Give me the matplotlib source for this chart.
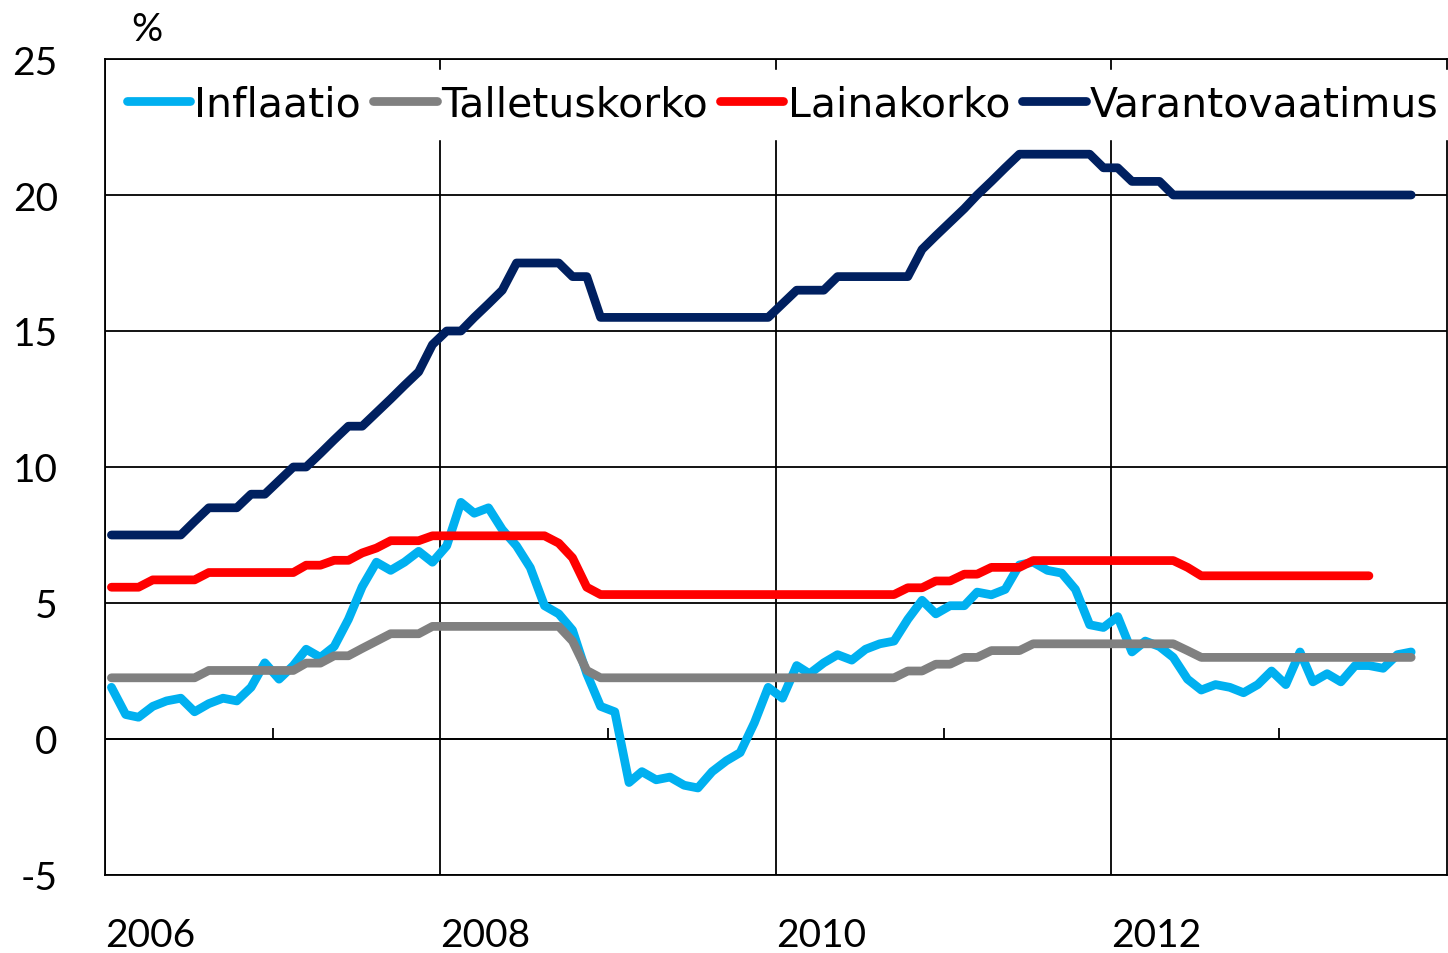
import matplotlib
matplotlib.use("Agg")
from matplotlib import pyplot as plt
import numpy as np
import pandas as pd

# monthly data, Jan 2006 ->
inflaatio = [1.9, 0.9, 0.8, 1.2, 1.4, 1.5, 1.0, 1.3, 1.5, 1.4, 1.9, 2.8,
             2.2, 2.7, 3.3, 3.0, 3.4, 4.4, 5.6, 6.5, 6.2, 6.5, 6.9, 6.5,
             7.1, 8.7, 8.3, 8.5, 7.7, 7.1, 6.3, 4.9, 4.6, 4.0, 2.4, 1.2,
             1.0, -1.6, -1.2, -1.5, -1.4, -1.7, -1.8, -1.2, -0.8, -0.5, 0.6, 1.9,
             1.5, 2.7, 2.4, 2.8, 3.1, 2.9, 3.3, 3.5, 3.6, 4.4, 5.1, 4.6,
             4.9, 4.9, 5.4, 5.3, 5.5, 6.4, 6.5, 6.2, 6.1, 5.5, 4.2, 4.1,
             4.5, 3.2, 3.6, 3.4, 3.0, 2.2, 1.8, 2.0, 1.9, 1.7, 2.0, 2.5,
             2.0, 3.2, 2.1, 2.4, 2.1, 2.7, 2.7, 2.6, 3.1, 3.2]

talletuskorko = ([2.25] * 7 + [2.52] * 7 + [2.79] * 2 + [3.06] * 2 + [3.33] + [3.60]
                 + [3.87] * 3 + [4.14] * 10 + [3.60] + [2.52] + [2.25] * 22
                 + [2.50] * 2 + [2.75] * 2 + [3.00] * 2 + [3.25] * 3 + [3.50] * 11
                 + [3.25] + [3.00] * 16)

lainakorko = ([5.58] * 3 + [5.85] * 4 + [6.12] * 7 + [6.39] * 2 + [6.57] * 2 + [6.84]
              + [7.02] + [7.29] * 3 + [7.47] * 9 + [7.20] + [6.66] + [5.58] + [5.31] * 22
              + [5.56] * 2 + [5.81] * 2 + [6.06] * 2 + [6.31] * 3 + [6.56] * 11
              + [6.31] + [6.00] * 13)

varanto = ([7.5] * 6 + [8.0] + [8.5] * 3 + [9.0] * 2 + [9.5] + [10.0] * 2 + [10.5] + [11.0]
           + [11.5] * 2 + [12.0] + [12.5] + [13.0] + [13.5] + [14.5] + [15.0] * 2 + [15.5]
           + [16.0] + [16.5] + [17.5] * 4 + [17.0] * 2 + [15.5] * 13 + [16.0] + [16.5] * 3
           + [17.0] * 6 + [18.0] + [18.5] + [19.0] + [19.5] + [20.0] + [20.5] + [21.0]
           + [21.5] * 6 + [21.0] * 2 + [20.5] * 3 + [20.0] * 18)

labels = ["Inflaatio", "Talletuskorko", "Lainakorko", "Varantovaatimus"]
colors = ["#00B0F0", "#808080", "#FF0000", "#002060"]
year_labels = ["2006", "2008", "2010", "2012"]

def months(n):
    return pd.date_range("2006-01-01", periods=n, freq="MS") + pd.Timedelta(days=14)

fig = plt.figure(figsize=(14.48, 9.54), dpi=100)
ax = fig.add_axes([105 / 1448, 78 / 954, 1342 / 1448, 816 / 954])

series = [inflaatio, talletuskorko, lainakorko, varanto]
for vals, lab, col in zip(series, labels, colors):
    ax.plot(months(len(vals)), vals, color=col, lw=6.3, label=lab,
            solid_capstyle="round", solid_joinstyle="round", zorder=3)

ax.set_ylim(-5, 25)
ax.set_xlim(pd.Timestamp("2006-01-01"), pd.Timestamp("2014-01-01"))
ax.set_yticks(range(-5, 26, 5))
ax.set_yticklabels([str(v) for v in range(-5, 26, 5)])
xt = [pd.Timestamp(y + "-01-01") for y in year_labels]
ax.set_xticks(xt)
ax.set_xticklabels(year_labels, ha="left")

tickfont = "Lato"
for t in ax.get_yticklabels() + ax.get_xticklabels():
    t.set_fontfamily(tickfont)
    t.set_fontsize(28)
ax.tick_params(axis="y", length=0, pad=34)
ax.tick_params(axis="x", length=0, pad=30)

ax.grid(True, color="black", lw=1.3)
ax.set_axisbelow(True)
for s in ax.spines.values():
    s.set_linewidth(1.3)
    s.set_color("black")

# x axis crossing at zero, with small ticks
ax.axhline(0, color="black", lw=1.3, zorder=2)
odd = [pd.Timestamp(y + "-01-01") for y in ["2007", "2009", "2011", "2013"]]
ax.vlines(odd, 0, 0.4, color="black", lw=1.3, zorder=2)

leg = ax.legend(loc="center", bbox_to_anchor=(0.505, 0.944), ncol=4,
                prop={"family": "DejaVu Sans", "size": 29.5},
                handlelength=1.55, handletextpad=0.1, columnspacing=0.3,
                borderpad=0.35, borderaxespad=0, frameon=True, fancybox=False)
leg.get_frame().set_edgecolor("white")
leg.get_frame().set_facecolor("white")
leg.get_frame().set_alpha(1)
for h in leg.get_lines():
    h.set_solid_capstyle("round")
    h.set_linewidth(6.3)

fig.text(147 / 1448, 1 - 30 / 954, "%", fontfamily=tickfont, fontsize=28,
         ha="center", va="center")

fig.savefig("out.png", dpi=100)
